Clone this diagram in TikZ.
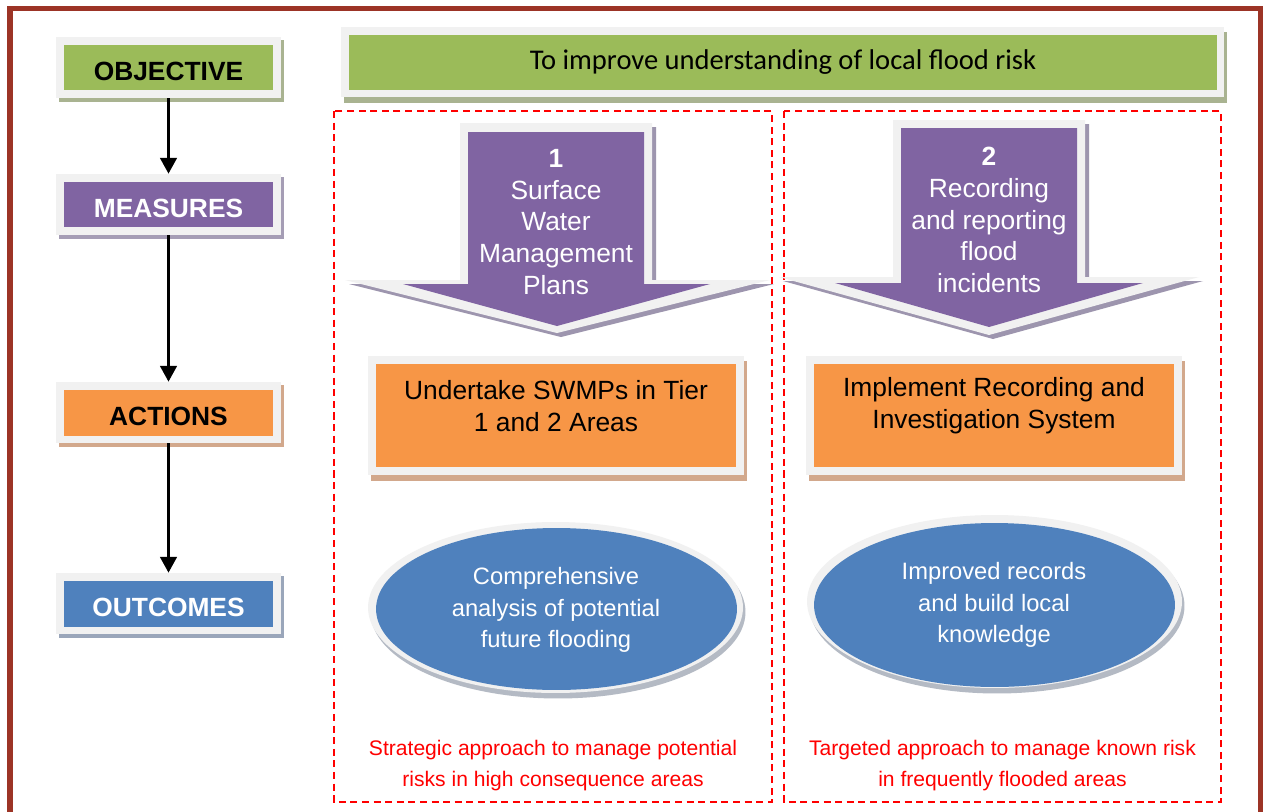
\documentclass[tikz,border=0pt]{standalone}
\usepackage{fontspec}
\setmainfont{Liberation Sans}
\newfontfamily\calib{Carlito}
\usetikzlibrary{arrows.meta,shapes.geometric}
\definecolor{framec}{HTML}{9C3426}
\definecolor{lgray}{HTML}{F1F1F1}
\definecolor{cgreen}{HTML}{9BBB59}
\definecolor{cpurple}{HTML}{8064A2}
\definecolor{corange}{HTML}{F79646}
\definecolor{cblue}{HTML}{4F81BD}
\definecolor{shgreen}{HTML}{A9B391}
\definecolor{shpurple}{HTML}{A59DB5}
\definecolor{shorange}{HTML}{D2A88C}
\definecolor{shblue}{HTML}{9AA6BA}
\definecolor{sharrow}{HTML}{9D95AE}
\definecolor{shell}{HTML}{B4BAC4}
\tikzset{
  outerbox/.style={rectangle, fill=lgray, inner sep=0pt, minimum width=4.5cm, minimum height=1.22cm},
  innerbox/.style={rectangle, inner sep=0pt, minimum width=4.18cm, minimum height=0.92cm},
  lefttext/.style={inner sep=0pt, font=\fontsize{15}{18}\selectfont\bfseries},
  conn/.style={line width=1.4pt, -{Triangle[length=9pt,width=9.5pt]}},
  redbox/.style={draw=red, line width=1.1pt, dash pattern=on 4pt off 2.6pt},
  bodytext/.style={inner sep=0pt, align=center, font=\fontsize{15}{18.1}\selectfont},
  elltext/.style={inner sep=0pt, align=center, text=white, font=\fontsize{13.5}{18.1}\selectfont},
  notetext/.style={inner sep=0pt, align=center, text=red, font=\fontsize{12}{17.6}\selectfont},
}
\newcommand\leftbox[6]{%
  \fill[#4] (59,{#2-27.5}) rectangle (284,{#2+34.5});
  \node[outerbox] (#1) at (168.5,#2) {};
  \node[innerbox, fill=#3] (#1i) at (168.5,#2) {};
  \node[lefttext, text=#5] (#1t) at (168.5,{#2+3.5}) {#6};
}
\begin{document}
\begin{tikzpicture}[x=0.02cm,y=-0.02cm]
\useasboundingbox (0,0) rectangle (1263,811);
\clip (0,0) rectangle (1263,811);
\fill[white] (0,0) rectangle (1263,811);
% outer frame
\draw[framec, line width=3.4pt] (10,8.5) rectangle (1260.5,840);

% left column
\leftbox{obj}{67.5}{cgreen}{shgreen}{black}{OBJECTIVE}
\leftbox{mea}{204.5}{cpurple}{shpurple}{white}{MEASURES}
\leftbox{act}{412.5}{corange}{shorange}{black}{ACTIONS}
\leftbox{out}{603.5}{cblue}{shblue}{white}{OUTCOMES}
\draw[conn] (obj.south) -- (mea.north);
\draw[conn] (mea.south) -- (act.north);
\draw[conn] (act.south) -- (out.north);

% banner
\fill[shgreen] (344,32) rectangle (1227,103);
\node[rectangle, fill=lgray, inner sep=0pt, minimum width=17.66cm, minimum height=1.4cm] (ban) at (782.5,62) {};
\node[rectangle, fill=cgreen, inner sep=0pt, minimum width=17.36cm, minimum height=1.1cm] (bani) at (783,62.5) {};
\node[inner sep=0pt, font=\calib\fontsize{16.25}{19}\selectfont] (bant) at (783,62) {To improve understanding of local flood risk};

% dashed panels
\draw[redbox] (334,111) rectangle (772,802);
\draw[redbox] (784,111) rectangle (1221,802);

% arrow 1
\fill[sharrow] (464,127) -- (656,127) -- (656,284) -- (774,284) -- (561,337) -- (349,284) -- (464,284) -- cycle;
\fill[lgray] (460,123) -- (652,123) -- (652,280) -- (770,280) -- (557,333) -- (345,280) -- (460,280) -- cycle;
\fill[cpurple] (468,132) -- (644,132) -- (644,284) -- (710,284) -- (557,326) -- (403,284) -- (468,284) -- cycle;
\node[bodytext, text=white] (m1) at (556,222) {\textbf{1}\\Surface\\Water\\Management\\Plans};

% arrow 2
\fill[sharrow] (897,124) -- (1089,124) -- (1089,281) -- (1203,281) -- (993,339) -- (783,281) -- (897,281) -- cycle;
\fill[lgray] (893,120) -- (1085,120) -- (1085,277) -- (1199,277) -- (989,335) -- (779,277) -- (893,277) -- cycle;
\fill[cpurple] (901,128) -- (1077,128) -- (1077,283) -- (1143,283) -- (989,327) -- (835,283) -- (901,283) -- cycle;
\node[bodytext, text=white] (m2) at (989,220) {\textbf{2}\\Recording\\and reporting\\flood\\incidents};

% action boxes
\fill[shorange] (371,361) rectangle (747,481);
\node[rectangle, fill=lgray, inner sep=0pt, minimum width=7.52cm, minimum height=2.38cm] (a1) at (556,415.5) {};
\node[rectangle, fill=corange, inner sep=0pt, minimum width=7.2cm, minimum height=2.06cm] (a1i) at (556,415.5) {};
\node[bodytext] (a1t) at (556,406) {Undertake SWMPs in Tier\\1 and 2 Areas};

\fill[shorange] (809,361) rectangle (1185,481);
\node[rectangle, fill=lgray, inner sep=0pt, minimum width=7.52cm, minimum height=2.38cm] (a2) at (994,415.5) {};
\node[rectangle, fill=corange, inner sep=0pt, minimum width=7.2cm, minimum height=2.06cm] (a2i) at (994,415.5) {};
\node[bodytext] (a2t) at (994,406) {Implement Recording and\\Investigation System};

% outcome ellipses
\fill[shell] (558,612) ellipse [x radius=3.75cm, y radius=1.73cm];
\node[ellipse, fill=lgray, inner sep=0pt, minimum width=7.5cm, minimum height=3.42cm] (o1) at (555.5,607.5) {};
\node[ellipse, fill=cblue, inner sep=0pt, minimum width=7.22cm, minimum height=3.24cm] (o1i) at (556.5,609) {};
\node[elltext] (o1t) at (556,610) {Comprehensive\\analysis of potential\\future flooding};

\fill[shell] (997,606) ellipse [x radius=3.75cm, y radius=1.75cm];
\node[ellipse, fill=lgray, inner sep=0pt, minimum width=7.5cm, minimum height=3.46cm] (o2) at (994.5,601.5) {};
\node[ellipse, fill=cblue, inner sep=0pt, minimum width=7.22cm, minimum height=3.28cm] (o2i) at (994.5,605) {};
\node[elltext] (o2t) at (994,605) {Improved records\\and build local\\knowledge};

% notes
\node[notetext] (n1) at (553,765.5) {Strategic approach to manage potential\\risks in high consequence areas};
\node[notetext] (n2) at (1002.5,765.5) {Targeted approach to manage known risk\\in frequently flooded areas};
\end{tikzpicture}
\end{document}
